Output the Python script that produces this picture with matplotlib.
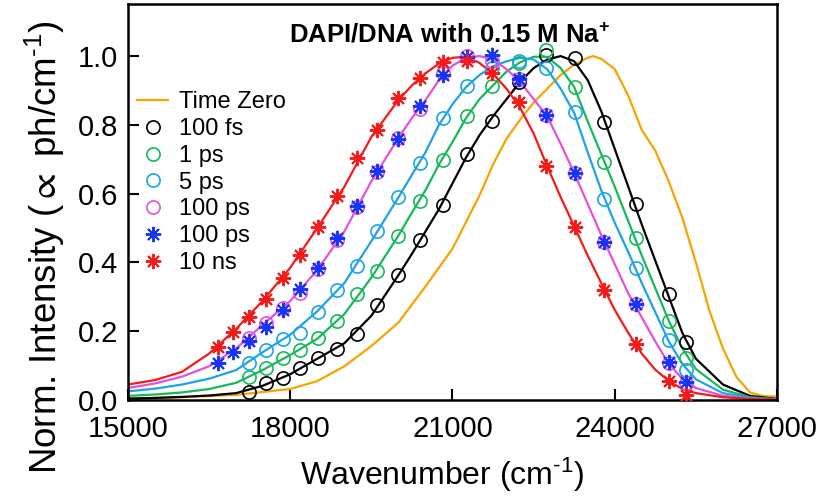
import matplotlib
matplotlib.use("Agg")
import matplotlib.pyplot as plt

plt.rcParams['font.family'] = ['Liberation Sans', 'DejaVu Sans']
plt.rcParams['mathtext.fontset'] = 'custom'
plt.rcParams['mathtext.rm'] = 'Liberation Sans'
plt.rcParams['mathtext.it'] = 'Liberation Sans:italic'
plt.rcParams['mathtext.bf'] = 'Liberation Sans:bold'
plt.rcParams['mathtext.fallback'] = 'stixsans'

# ------------------------------------------------------------
# Data
# ------------------------------------------------------------

# wavenumbers of the measured points (cm^-1)
wn_points = [16667, 16949, 17241, 17544, 17857, 18182, 18519, 18868, 19231, 19608,
             20000, 20408, 20833, 21277, 21739, 22222, 22727, 23256, 23810, 24390,
             25000, 25316]

# circle series start at the third point
fs100_pts = [0.024, 0.049, 0.065, 0.092, 0.121, 0.148, 0.191, 0.276, 0.363, 0.465,
             0.567, 0.715, 0.810, 0.925, 1.003, 0.993, 0.808, 0.570, 0.307, 0.169]
ps1_pts = [0.068, 0.092, 0.121, 0.145, 0.179, 0.230, 0.307, 0.375, 0.478, 0.580,
           0.698, 0.826, 0.913, 0.981, 1.019, 0.911, 0.693, 0.472, 0.230, 0.121]
ps5_pts = [0.107, 0.145, 0.177, 0.194, 0.257, 0.320, 0.390, 0.491, 0.589, 0.688,
           0.821, 0.913, 0.965, 0.985, 0.964, 0.838, 0.583, 0.385, 0.174, 0.087]
ps100_pts = [0.181, 0.223, 0.268, 0.310, 0.381, 0.465, 0.562, 0.664, 0.761, 0.847,
             0.950, 1.000, 0.985, 0.932, 0.830, 0.659, 0.459, 0.278, 0.107, 0.049]
# star series use all points
ps100b_pts = [0.107, 0.139, 0.172, 0.213, 0.262, 0.323, 0.383, 0.470, 0.565, 0.667,
              0.760, 0.855, 0.945, 0.997, 1.003, 0.932, 0.828, 0.660, 0.460, 0.280,
              0.110, 0.052]
ns10_pts = [0.155, 0.199, 0.242, 0.294, 0.354, 0.422, 0.504, 0.593, 0.703, 0.785,
            0.877, 0.936, 0.983, 0.985, 0.950, 0.866, 0.680, 0.504, 0.320, 0.163,
            0.055, 0.015]

# fitted curves: every 500 cm^-1 up to 20000, every 250 to 25500, then 500
wn_fit = [15000, 15500, 16000, 16500, 17000, 17500, 18000, 18500, 19000, 19500, 20000,
          20250, 20500, 20750, 21000, 21250, 21500, 21750, 22000, 22250, 22500,
          22750, 23000, 23250, 23500, 23750, 24000, 24250, 24500, 24750, 25000,
          25250, 25500,
          26000, 26500, 27000]
fs100_fit = [0.004, 0.006, 0.009, 0.013, 0.020, 0.042, 0.075, 0.120, 0.165, 0.245, 0.363,
             0.425, 0.490, 0.555, 0.630, 0.705, 0.770, 0.825, 0.875, 0.925, 0.965,
             0.990, 1.000, 0.985, 0.930, 0.840, 0.730, 0.620, 0.510, 0.405, 0.300,
             0.195, 0.120,
             0.045, 0.012, 0.003]
ps1_fit = [0.012, 0.016, 0.022, 0.032, 0.050, 0.088, 0.131, 0.178, 0.250, 0.356, 0.478,
           0.545, 0.610, 0.685, 0.750, 0.820, 0.875, 0.915, 0.955, 0.982, 0.998,
           0.998, 0.965, 0.910, 0.810, 0.715, 0.620, 0.520, 0.420, 0.325, 0.230,
           0.150, 0.090,
           0.030, 0.008, 0.002]
ps5_fit = [0.025, 0.033, 0.045, 0.062, 0.087, 0.140, 0.190, 0.258, 0.340, 0.462, 0.589,
           0.655, 0.720, 0.800, 0.860, 0.910, 0.945, 0.970, 0.985, 0.995, 0.990,
           0.962, 0.905, 0.835, 0.720, 0.610, 0.515, 0.430, 0.340, 0.255, 0.170,
           0.105, 0.060,
           0.020, 0.006, 0.002]
ps100_fit = [0.035, 0.048, 0.068, 0.098, 0.150, 0.220, 0.288, 0.378, 0.490, 0.636, 0.762,
             0.820, 0.872, 0.930, 0.972, 0.995, 1.000, 0.990, 0.962, 0.925, 0.875,
             0.825, 0.745, 0.660, 0.570, 0.480, 0.395, 0.310, 0.240, 0.170, 0.105,
             0.062, 0.035,
             0.012, 0.004, 0.001]
ns10_fit = [0.045, 0.058, 0.082, 0.135, 0.207, 0.290, 0.385, 0.500, 0.620, 0.765, 0.872,
            0.915, 0.950, 0.978, 0.995, 0.998, 0.980, 0.948, 0.905, 0.850, 0.775,
            0.680, 0.590, 0.505, 0.420, 0.340, 0.262, 0.195, 0.135, 0.088, 0.055,
            0.032, 0.020,
            0.008, 0.003, 0.001]

# time-zero spectrum
wn_zero = [15000, 16000, 17000, 18000, 18500, 19000, 19500, 20000, 20500, 21000,
           21500, 21750, 22000, 22250, 22500, 22750, 23000, 23250, 23500, 23600,
           23750, 24000, 24250, 24500, 24750, 25000, 25250, 25500, 25750, 26000,
           26250, 26500, 26750, 27000]
zero_y = [0.004, 0.008, 0.015, 0.032, 0.055, 0.098, 0.157, 0.225, 0.330, 0.440,
          0.595, 0.685, 0.760, 0.815, 0.865, 0.905, 0.945, 0.975, 0.995, 1.000,
          0.992, 0.962, 0.885, 0.785, 0.725, 0.635, 0.530, 0.400, 0.260, 0.150,
          0.067, 0.022, 0.011, 0.010]

C_ORANGE = '#f6a400'
C_BLACK = '#000000'
C_GREEN = '#16b95a'
C_SKY = '#1ba3ec'
C_PINK = '#e550dc'
C_BLUE = '#1535f5'
C_RED = '#f51a1a'

STAR = (8, 2, 0)

# ------------------------------------------------------------
# Plot
# ------------------------------------------------------------

fig = plt.figure(figsize=(8.23, 4.98), dpi=100)
ax = fig.add_axes([128 / 823, 98 / 498, 649 / 823, 395.5 / 498])

lw = 1.6
ax.plot(wn_zero, zero_y, color=C_ORANGE, lw=lw, label="Time Zero", zorder=2)
ax.plot(wn_fit, fs100_fit, color=C_BLACK, lw=lw, zorder=2)
ax.plot(wn_fit, ps1_fit, color=C_GREEN, lw=lw, zorder=2)
ax.plot(wn_fit, ps5_fit, color=C_SKY, lw=lw, zorder=2)
ax.plot(wn_fit, ps100_fit, color=C_PINK, lw=lw, zorder=2)
ax.plot(wn_fit, ns10_fit, color=C_RED, lw=lw, zorder=2)

ms = 9.5
mew = 1.2
ax.plot(wn_points[2:], fs100_pts, 'o', ms=ms, mfc='none', mec=C_BLACK, mew=mew,
        label="100 fs", zorder=3)
ax.plot(wn_points[2:], ps1_pts, 'o', ms=ms, mfc='none', mec=C_GREEN, mew=mew,
        label="1 ps", zorder=3)
ax.plot(wn_points[2:], ps5_pts, 'o', ms=ms, mfc='none', mec=C_SKY, mew=mew,
        label="5 ps", zorder=3)
ax.plot(wn_points[2:], ps100_pts, 'o', ms=ms, mfc='none', mec=C_PINK, mew=mew,
        label="100 ps", zorder=3)
ax.plot(wn_points, ps100b_pts, marker=STAR, ls='none', ms=11, mec=C_BLUE, mew=1.4,
        label="100 ps", zorder=3)
ax.plot(wn_points, ns10_pts, marker=STAR, ls='none', ms=11, mec=C_RED, mew=1.4,
        label="10 ns", zorder=3)

ax.set_xlim(15000, 27000)
ax.set_ylim(0, 1.15)
ax.set_xticks([15000, 18000, 21000, 24000, 27000])
ax.set_yticks([0.0, 0.2, 0.4, 0.6, 0.8, 1.0])
ax.set_yticklabels(["0.0", "0.2", "0.4", "0.6", "0.8", "1.0"])
ax.tick_params(direction='in', length=8, width=1.5, labelsize=21, pad=7,
               top=False, right=False)
ax.tick_params(axis='x', pad=11)
for s in ax.spines.values():
    s.set_linewidth(1.8)

leg = ax.legend(loc='upper left', bbox_to_anchor=(-0.004, 0.81), frameon=False,
                fontsize=17, handlelength=1.3, handletextpad=0.45,
                labelspacing=0.2, borderaxespad=0.3, borderpad=0.2)

ax.text(0.496, 0.905, r"DAPI/DNA with 0.15 M Na$^{\mathbf{+}}$", transform=ax.transAxes,
        ha='center', va='baseline', fontsize=18.5, fontweight='bold')

fig.text(442 / 823, 1 - 485 / 498, r"Wavenumber (cm$^{\text{-}1}$)", ha='center',
         va='baseline', fontsize=23)
fig.text(45 / 823, 1 - 247 / 498, r"Norm. Intensity ($\propto$ ph/cm$^{\text{-}1}$)",
         rotation=90, ha='center', va='center', fontsize=26.5)

fig.savefig("out.png", dpi=100)
